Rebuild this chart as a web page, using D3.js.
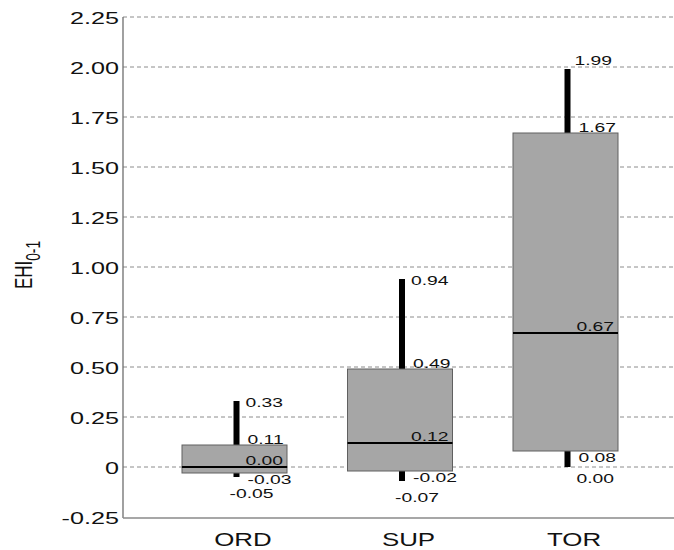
<!DOCTYPE html>
<html>
<head>
<meta charset="utf-8">
<script src="https://cdn.jsdelivr.net/npm/d3@7"></script>
<style>
  html, body { margin: 0; padding: 0; background: #fff; }
  svg { display: block; font-family: "Liberation Sans", Arial, Helvetica, sans-serif; }
</style>
</head>
<body>
<svg id="chart" width="674" height="550"></svg>
<script>
// Summary statistics per group (box = quartiles, bar = range)
const categories  = ["ORD", "SUP", "TOR"];
const whiskerMax  = [0.33, 0.94, 1.99];
const boxUpper    = [0.11, 0.49, 1.67];
const medians     = [0.00, 0.12, 0.67];
const boxLower    = [-0.03, -0.02, 0.08];
const whiskerMin  = [-0.05, -0.07, 0.00];
const yTicks      = [-0.25, 0, 0.25, 0.5, 0.75, 1.0, 1.25, 1.5, 1.75, 2.0, 2.25];
const yLabel      = "EHI";
const yLabelSub   = "0-1";

const rows = categories.map((c, i) => ({
  cat: c, max: whiskerMax[i], q3: boxUpper[i], med: medians[i], q1: boxLower[i], min: whiskerMin[i]
}));

// Layout
const plot = { left: 123, right: 674, top: 17, bottom: 518 };
const SX = 1.45;           // horizontal stretch applied to all text
const boxW = 105;
const fmt = v => v.toFixed(2);

const svg = d3.select("#chart");

const y = d3.scaleLinear().domain([-0.25, 2.25]).range([plot.bottom - 1, plot.top]);
const x = d3.scalePoint().domain(categories).range([234.5, 565.5]);

// Horizontal dashed grid
svg.append("g").selectAll("line")
  .data(yTicks.filter(t => t > -0.25))
  .join("line")
  .attr("x1", plot.left).attr("x2", plot.right)
  .attr("y1", d => y(d)).attr("y2", d => y(d))
  .attr("stroke", "#8c8c8c").attr("stroke-width", 1)
  .attr("stroke-dasharray", "4,3");

// Y axis
const yAxis = svg.append("g")
  .attr("transform", `translate(${plot.left},0)`)
  .call(d3.axisLeft(y).tickValues(yTicks).tickSize(0).tickSizeOuter(0).tickPadding(0)
        .tickFormat(d => d === 0 ? "0" : fmt(d)));
yAxis.select(".domain").attr("stroke", "#6e6e6e").attr("stroke-width", 1.3)
  .attr("d", `M0,${y(2.25)}V${plot.bottom}`);
yAxis.selectAll("text")
  .attr("x", -4 / SX).attr("dy", "0.36em")
  .attr("transform", `scale(${SX + 0.03},1)`)
  .attr("font-size", 17).attr("fill", "#111")
  .style("font-family", "'Liberation Sans', Arial, sans-serif");

// Bottom baseline
svg.append("line")
  .attr("x1", plot.left).attr("x2", plot.right)
  .attr("y1", plot.bottom).attr("y2", plot.bottom)
  .attr("stroke", "#8a8a8a").attr("stroke-width", 1.3);

// Category labels
const xAxis = svg.append("g")
  .attr("transform", `translate(8,${plot.bottom})`)
  .call(d3.axisBottom(x).tickSize(0).tickPadding(0));
xAxis.select(".domain").remove();
xAxis.selectAll(".tick text")
  .attr("y", 0).attr("dy", 0)
  .attr("transform", `translate(0,28) scale(${SX - 0.05},1)`)
  .attr("font-size", 18.5).attr("fill", "#111")
  .style("font-family", "'Liberation Sans', Arial, sans-serif");

// Y axis title with subscript
const yt = svg.append("text")
  .attr("transform", `translate(32,${(y(1.25) + y(0.75)) / 2 - 2}) scale(${SX},1) rotate(-90)`)
  .attr("text-anchor", "middle").attr("fill", "#111").attr("font-size", 17);
yt.append("tspan").text(yLabel);
yt.append("tspan").attr("font-size", 13.8).attr("dy", 5.5).text(yLabelSub);

// Groups
const wOff = 2;   // range bar sits slightly right of box centre
const g = svg.append("g").selectAll("g").data(rows).join("g");

// Range bars (behind the boxes)
g.append("line")
  .attr("x1", d => x(d.cat) + wOff).attr("x2", d => x(d.cat) + wOff)
  .attr("y1", d => y(d.max)).attr("y2", d => y(d.min))
  .attr("stroke", "#000").attr("stroke-width", 6);

// Boxes
g.append("rect")
  .attr("x", d => x(d.cat) - boxW / 2).attr("width", boxW)
  .attr("y", d => y(d.q3)).attr("height", d => y(d.q1) - y(d.q3))
  .attr("fill", "#a6a6a6").attr("stroke", "#606060").attr("stroke-width", 1);

// Medians
g.append("line")
  .attr("x1", d => x(d.cat) - boxW / 2).attr("x2", d => x(d.cat) + boxW / 2)
  .attr("y1", d => y(d.med)).attr("y2", d => y(d.med))
  .attr("stroke", "#000").attr("stroke-width", 2);

// Value labels: offsets (dx, dy baseline) from bar position and value
const place = {
  max: { dx: 9,  dy: 6 },
  q3:  { dx: 11, dy: -1 },
  med: { dx: 9,  dy: -2 },
  q1:  { dx: 11, dy: 11 },
  min: { dx: -7, dy: 21 }
};
const override = {
  TOR: { max: { dx: 7, dy: -4 }, min: { dx: 9, dy: 16 } }
};
const keys = ["max", "q3", "med", "q1", "min"];
g.each(function(d) {
  const sel = d3.select(this);
  keys.forEach(k => {
    const p = (override[d.cat] && override[d.cat][k]) || place[k];
    sel.append("text")
      .attr("transform", `translate(${x(d.cat) + wOff + p.dx},${y(d[k]) + p.dy}) scale(${SX - 0.02},1)`)
      .attr("font-size", 13.5).attr("fill", "#111")
      .text(fmt(d[k]));
  });
});
</script>
</body>
</html>
